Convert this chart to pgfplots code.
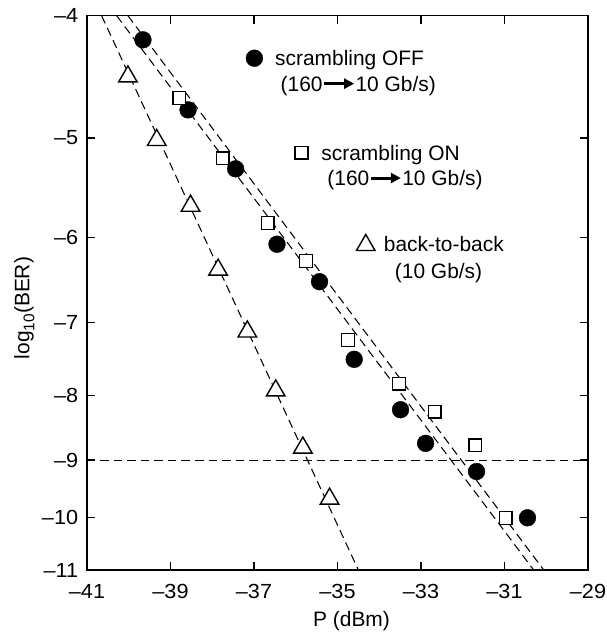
\documentclass[border=0pt]{standalone}
\usepackage{fontspec}
\setmainfont{Liberation Sans}
\usepackage{pgfplots}
\usepackage{pgfplotstable}
\pgfplotsset{compat=1.18}
\usetikzlibrary{arrows.meta}

\newcommand\tickfont{\fontsize{20.5}{20.5}\selectfont}
\newcommand\labfont{\fontsize{21}{25.5}\selectfont}
\newcommand\arr{\tikz[baseline=0pt]\draw[line width=3bp,-{Triangle[length=10bp,width=10bp]}] (0,7.5bp) -- (30bp,7.5bp);}

\pgfplotstableread{
P L
-39.66 -4.18
-38.58 -4.75
-37.44 -5.29
-36.45 -6.07
-35.43 -6.50
-34.60 -7.49
-33.49 -8.21
-32.89 -8.73
-31.67 -9.19
-30.45 -10.00
}\off
\pgfplotstableread{
P L
-38.79 -4.65
-37.75 -5.19
-36.67 -5.84
-35.75 -6.26
-34.75 -7.23
-33.53 -7.83
-32.67 -8.24
-31.70 -8.76
-30.97 -10.00
}\on
\pgfplotstableread{
P L
-40.02 -4.47
-39.33 -5.02
-38.52 -5.66
-37.86 -6.36
-37.16 -7.12
-36.48 -7.93
-35.83 -8.80
-35.19 -9.66
}\btb

\begin{document}
\begin{tikzpicture}
\begin{axis}[name=ax, at={(0,0)}, anchor=south west,
  scale only axis, width=501bp, height=554.3bp,
  xmin=-41, xmax=-29, ymin=-11, ymax=-4,
  y coord trafo/.code={\pgfmathparse{-ln(0-(#1))/2.302585093}},
  y coord inv trafo/.code={\pgfmathparse{-exp(-(#1)*2.302585093)}},
  xtick={-41,-39,-37,-35,-33,-31,-29},
  xticklabels={–41,–39,–37,–35,–33,–31,–29},
  ytick={-11,-10,-9,-8,-7,-6,-5,-4},
  yticklabels={–11,–10,–9,–8,–7,–6,–5,–4},
  minor tick num=0,
  tick align=inside, tick pos=both, major tick length=8bp,
  tick style={line width=1.2bp, black},
  axis line style={line width=1.4bp},
  xticklabel style={font=\tickfont, inner sep=0pt, anchor=base, yshift=-28.5bp, xscale=1.06},
  yticklabel style={font=\tickfont, inner sep=0pt, anchor=east, xshift=-8.7bp, xscale=1.06},
  xlabel={P (dBm)},
  xlabel style={at={(axis description cs:0.528,-0.1023)}, anchor=base, font=\labfont, inner sep=0pt},
  ylabel={log\raisebox{-5bp}{\fontsize{15.5}{15.5}\selectfont 10}(BER)},
  ylabel style={at={(axis description cs:-0.1148,0.4727)}, anchor=base, font=\labfont, inner sep=0pt},
  dashline/.style={black, line width=1.05bp, dash pattern=on 8.5bp off 5bp},
]
\addplot[dashline] coordinates {(-41,-9) (-29,-9)};
\addplot[dashline] coordinates {(-40.65,-4) (-34.50,-11)};
\addplot[dashline] coordinates {(-40.29,-4) (-30.30,-11)};
\addplot[dashline] coordinates {(-40.02,-4) (-30.06,-11)};
\addplot[only marks, mark=*, mark size=8.4bp, black] table[x=P, y=L] {\off};
\addplot[only marks, mark=square*, mark size=6.4bp, black, mark options={fill=white, line width=1.4bp}] table[x=P, y=L] {\on};
\addplot[only marks, mark=triangle*, mark size=10.7bp, black, mark options={fill=white, line width=1.4bp}] table[x=P, y=L] {\btb};
\end{axis}

% legend entries (overlay axes, each with one legend)
\begin{axis}[at={(ax.south west)}, anchor=south west, scale only axis, width=501bp, height=554.3bp,
  hide axis, xmin=0, xmax=1, ymin=0, ymax=1,
  legend cell align=left,
  legend style={at={(0.3174,0.9418)}, anchor=north west, draw=none, fill=none, inner sep=0pt, outer sep=0pt,
    column sep=0pt, row sep=0pt, cells={anchor=base west}, nodes={inner sep=0pt, outer sep=0pt, font=\labfont}},
  legend image code/.code={\draw[#1] plot coordinates {(0bp,7.5bp)}; \path[draw=none,fill=none] (0bp,0bp) -- (20.8bp,0bp);}]
\addlegendimage{only marks, mark=*, mark size=8.4bp, black}
\addlegendentry{{\begin{tabular}[t]{@{}l@{}}scrambling OFF\\\hspace*{5.5bp}(160\arr10 Gb/s)\end{tabular}}}
\end{axis}
\begin{axis}[at={(ax.south west)}, anchor=south west, scale only axis, width=501bp, height=554.3bp,
  hide axis, xmin=0, xmax=1, ymin=0, ymax=1,
  legend cell align=left,
  legend style={at={(0.4152,0.7715)}, anchor=north west, draw=none, fill=none, inner sep=0pt, outer sep=0pt,
    column sep=0pt, row sep=0pt, cells={anchor=base west}, nodes={inner sep=0pt, outer sep=0pt, font=\labfont}},
  legend image code/.code={\draw[#1] plot coordinates {(0bp,7.5bp)}; \path[draw=none,fill=none] (0bp,0bp) -- (20bp,0bp);}]
\addlegendimage{only marks, mark=square*, mark size=6.4bp, black, mark options={fill=white, line width=1.4bp}}
\addlegendentry{{\begin{tabular}[t]{@{}l@{}}scrambling ON\\\hspace*{6bp}(160\arr10 Gb/s)\end{tabular}}}
\end{axis}
\begin{axis}[at={(ax.south west)}, anchor=south west, scale only axis, width=501bp, height=554.3bp,
  hide axis, xmin=0, xmax=1, ymin=0, ymax=1,
  legend cell align=left,
  legend style={at={(0.5379,0.6064)}, anchor=north west, draw=none, fill=none, inner sep=0pt, outer sep=0pt,
    column sep=0pt, row sep=0pt, cells={anchor=base west}, nodes={inner sep=0pt, outer sep=0pt, font=\labfont}},
  legend image code/.code={\draw[#1] plot coordinates {(0bp,6.5bp)}; \path[draw=none,fill=none] (0bp,0bp) -- (18.2bp,0bp);}]
\addlegendimage{only marks, mark=triangle*, mark size=10.7bp, black, mark options={fill=white, line width=1.4bp}}
\addlegendentry{{\begin{tabular}[t]{@{}l@{}}back-to-back\\[1.5bp]\hspace*{11bp}(10 Gb/s)\end{tabular}}}
\end{axis}

\path ([shift={(-87bp,-63bp)}]ax.south west) rectangle ([shift={(19bp,15.7bp)}]ax.north east);
\end{tikzpicture}
\end{document}
